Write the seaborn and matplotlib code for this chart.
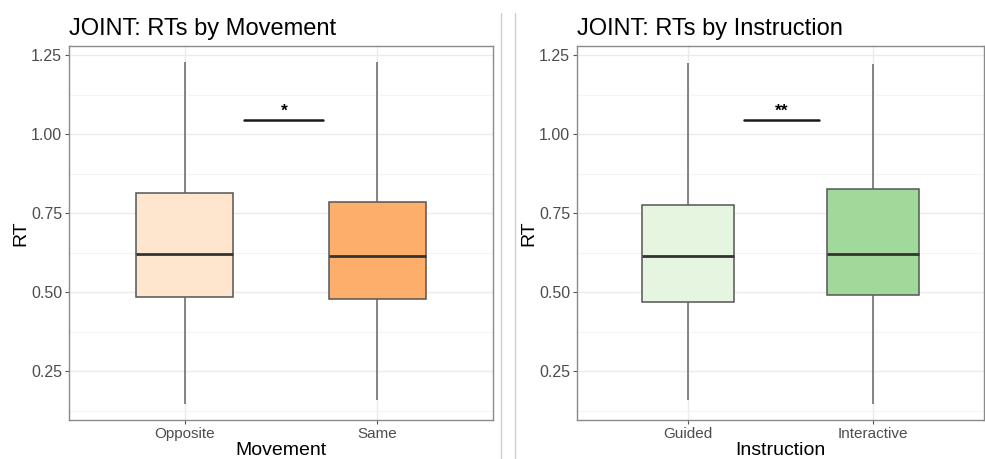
import matplotlib
matplotlib.use("Agg")
import matplotlib.pyplot as plt
from matplotlib.lines import Line2D
from matplotlib.ticker import MultipleLocator
import pandas as pd
import seaborn as sns

# Five-number summaries (lower whisker, Q1, median, Q3, upper whisker) of RT
movement_levels = ["Opposite", "Same"]
opposite_rt = [0.148, 0.484, 0.621, 0.813, 1.228]
same_rt = [0.160, 0.478, 0.613, 0.785, 1.228]

instruction_levels = ["Guided", "Interactive"]
guided_rt = [0.160, 0.470, 0.615, 0.777, 1.224]
interactive_rt = [0.148, 0.490, 0.620, 0.825, 1.221]

# Significance annotations: (label, x start, x end, y)
movement_sig = ("*", 0.31, 0.72, 1.045)
instruction_sig = ("**", 0.30, 0.71, 1.045)

movement_colors = ["#FEE6CE", "#FDAE6B"]
instruction_colors = ["#E5F5E0", "#A1D99B"]

sns.set_theme(style="white")
plt.rcParams["font.family"] = ["Liberation Sans", "DejaVu Sans"]

W, H = 985, 459
fig = plt.figure(figsize=(W / 100, H / 100), dpi=100)


def frac_box(x0, x1, ytop, ybot):
    return [x0 / W, 1 - ybot / H, (x1 - x0) / W, (ybot - ytop) / H]


ax_left = fig.add_axes(frac_box(69, 493, 46, 420))
ax_right = fig.add_axes(frac_box(577, 984, 46, 420))


def draw_panel(ax, levels, values, colors, xname, title, sig):
    df = pd.DataFrame({
        xname: [lvl for lvl, v in zip(levels, values) for _ in v],
        "RT": [x for v in values for x in v],
    })
    sns.boxplot(
        data=df, x=xname, y="RT", hue=xname, order=levels, hue_order=levels,
        palette=colors, saturation=1, width=0.5, legend=False, ax=ax,
        whis=10, showfliers=False, linecolor="#555555", linewidth=1.1,
        medianprops=dict(color="#333333", linewidth=2.0),
        whiskerprops=dict(color="#666666", linewidth=1.1),
        capprops=dict(linewidth=0), zorder=3,
    )
    ax.set_xlim(-0.6, 1.6)
    ax.set_ylim(0.096, 1.2785)
    ax.yaxis.set_major_locator(MultipleLocator(0.25))
    ax.yaxis.set_minor_locator(MultipleLocator(0.125))
    ax.set_yticklabels([f"{t:.2f}" for t in ax.get_yticks()])
    ax.grid(True, which="major", color="#EBEBEB", linewidth=1.0, zorder=0)
    ax.grid(True, which="minor", axis="y", color="#F4F4F4", linewidth=0.8, zorder=0)
    ax.set_axisbelow(True)
    for s in ax.spines.values():
        s.set_color("#8A8A8A")
        s.set_linewidth(1.0)
        s.set_visible(True)
    ax.tick_params(which="major", length=3, width=0.8, color="#555555",
                   labelsize=11.5, labelcolor="#4D4D4D", pad=2, left=True, bottom=True)
    ax.tick_params(axis="x", labelsize=11)
    ax.tick_params(which="minor", length=0)
    ax.set_xlabel(xname, fontsize=14, color="black", labelpad=1)
    ax.set_ylabel("RT", fontsize=14, color="black", labelpad=1)
    ax.set_title(title, loc="left", fontsize=17, color="black", pad=8)

    label, x0, x1, y = sig
    ax.plot([x0, x1], [y, y], color="#1a1a1a", linewidth=1.8, zorder=4)
    ax.text((x0 + x1) / 2, y + 0.005, label, ha="center", va="bottom",
            fontsize=12.5, fontweight="bold", color="black")


draw_panel(ax_left, movement_levels, [opposite_rt, same_rt], movement_colors,
           "Movement", "JOINT: RTs by Movement", movement_sig)
draw_panel(ax_right, instruction_levels, [guided_rt, interactive_rt], instruction_colors,
           "Instruction", "JOINT: RTs by Instruction", instruction_sig)

# thin separators between the two panels
for xs in (501, 515):
    fig.add_artist(Line2D([xs / W, xs / W], [0, 1 - 13 / H], transform=fig.transFigure,
                          color="#D0D0D0", linewidth=1.0))

fig.savefig("out.png", dpi=100)
